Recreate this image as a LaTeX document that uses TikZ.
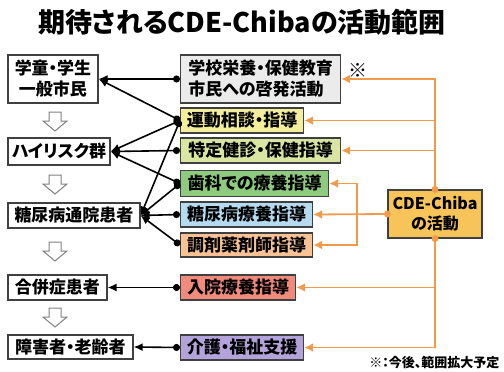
\documentclass[tikz,border=0pt]{standalone}
\usepackage{fontspec}
\setmainfont{Noto Sans CJK JP}[RawFeature=+palt]
\usetikzlibrary{arrows.meta}
\definecolor{cdeorange}{HTML}{F29A4C}
\definecolor{boxgray}{HTML}{EBEBEB}
\definecolor{boxyellow}{HTML}{F3EE9C}
\definecolor{boxlime}{HTML}{D9E6A2}
\definecolor{boxgreen}{HTML}{8ECB7E}
\definecolor{boxblue}{HTML}{B5DBF0}
\definecolor{boxpeach}{HTML}{F9C294}
\definecolor{boxsalmon}{HTML}{F08A7A}
\definecolor{boxlilac}{HTML}{B3A3DA}
\definecolor{boxcde}{HTML}{F7C45A}
\tikzset{
    leftbox/.style={draw=black!75, line width=1.2pt, fill=white, inner sep=0pt,
        minimum height=25pt, font=\fontsize{17}{21}\selectfont\bfseries, align=center},
    actbox/.style={leftbox, anchor=west},
    bline/.style={line width=1.6pt, {Circle[length=7pt]}-{Latex[length=9pt,width=8pt]}},
    oline/.style={draw=cdeorange, line width=1.8pt, -{Latex[length=9pt,width=9pt]}},
    hollowarr/.style={draw=black!50, line width=1pt, fill=white, line join=miter},
}
\begin{document}
\begin{tikzpicture}[x=1pt,y=-1pt]
    \useasboundingbox (0,0) rectangle (504,372);
    \node[font=\fontsize{27}{30}\selectfont\bfseries] (title) at (242,22) {期待されるCDE-Chibaの活動範囲};

    % left column
    \node[leftbox,minimum width=90,minimum height=48] (citizen) at (53,79) {学童・学生\\一般市民};
    \node[leftbox,minimum width=102,minimum height=27] (highrisk) at (59,151.5) {ハイリスク群};
    \node[leftbox,minimum width=132] (outpat) at (74,215.5) {糖尿病通院患者};
    \node[leftbox,minimum width=99] (complic) at (57.5,287.5) {合併症患者};
    \node[leftbox,minimum width=125,minimum height=24] (elderly) at (70.5,347) {障害者・老齢者};
    \foreach \y in {121,184,251,317}
        \draw[hollowarr] (55,\y) ++(-6,-9) -- ++(12,0) -- ++(0,9) -- ++(6,0)
            -- ++(-12,10) -- ++(-12,-10) -- ++(6,0) -- cycle;

    % activities
    \node[actbox,fill=boxgray,minimum width=160,minimum height=48,align=left] (edu) at (180,79)
        {学校栄養・保健教育\\市民への啓発活動};
    \node[actbox,fill=boxyellow,minimum width=123] (exercise) at (180,120.5) {運動相談・指導};
    \node[actbox,fill=boxlime,minimum width=160] (checkup) at (180,150.5) {特定健診・保健指導};
    \node[actbox,fill=boxgreen,minimum width=148,minimum height=26] (dental) at (180,183.5) {歯科での療養指導};
    \node[actbox,fill=boxblue,minimum width=132] (dmcare) at (180,214.5) {糖尿病療養指導};
    \node[actbox,fill=boxpeach,minimum width=132,minimum height=24] (pharm) at (180,245) {調剤薬剤師指導};
    \node[actbox,fill=boxsalmon,minimum width=115] (inpat) at (180,287.5) {入院療養指導};
    \node[actbox,fill=boxlilac,minimum width=123] (welfare) at (180,347.5) {介護・福祉支援};

    \node[leftbox,fill=boxcde,minimum width=94,minimum height=48,font=\fontsize{16}{20}\selectfont\bfseries]
        (cde) at (435,214) {CDE-Chiba\\の活動};

    \draw[bline] (edu.west) -- (citizen.east);
    \draw[bline] (exercise.west) -- (citizen.east);
    \draw[bline] (exercise.west) -- (highrisk.east);
    \draw[bline] (exercise.west) -- (outpat.east);
    \draw[bline] (checkup.west) -- (highrisk.east);
    \draw[bline] (dental.west) -- (highrisk.east);
    \draw[bline] (dental.west) -- (outpat.east);
    \draw[bline] (dmcare.west) -- (outpat.east);
    \draw[bline] (pharm.west) -- (outpat.east);
    \draw[bline] (inpat.west) -- (complic.east);
    \draw[bline] (welfare.west) -- (elderly.east);

    % CDE-Chiba lines
    \coordinate (split) at (357,214.5);
    \draw[oline] (cde.north) |- (edu.east);
    \draw[oline] (cde.north) |- (exercise.east);
    \draw[oline] (cde.north) |- (checkup.east);
    \draw[oline] (cde.west) -- (dmcare.east);
    \draw[oline] (split) |- (dental.east);
    \draw[oline] (split) |- (pharm.east);
    \draw[oline] (cde.south) |- (inpat.east);
    \draw[oline] (cde.south) |- (welfare.east);
    \fill[cdeorange] (cde.north) circle (3.5pt) (cde.west) circle (3.5pt) (cde.south) circle (3.5pt);

    \node[font=\fontsize{19}{20}\selectfont\bfseries] (mark) at (358,70) {※};
    \node[font=\fontsize{13}{15}\selectfont\bfseries,anchor=east] (note) at (503,363) {※：今後、範囲拡大予定};
\end{tikzpicture}
\end{document}
